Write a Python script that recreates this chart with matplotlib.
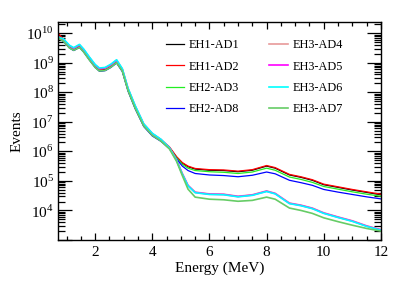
import matplotlib
matplotlib.use('Agg')
import matplotlib.pyplot as plt
import matplotlib.ticker as ticker
import numpy as np

plt.rcParams['font.family'] = ['Liberation Serif', 'DejaVu Serif']
plt.rcParams['mathtext.fontset'] = 'custom'
plt.rcParams['mathtext.rm'] = 'Liberation Serif'

# Energy grid (MeV) and log10(events)
energy = [0.7, 0.9, 1.1, 1.25, 1.45, 1.6, 1.8, 2.0, 2.15, 2.35,
          2.55, 2.75, 2.95, 3.15, 3.4, 3.7, 4.0, 4.3, 4.6, 4.85,
          5.05, 5.25, 5.5, 6.0, 6.5, 7.0, 7.5, 8.0, 8.3, 8.8,
          9.2, 9.6, 10.0, 10.5, 11.0, 11.5, 12.0]

eh1_ad1 = [9.96, 9.76, 9.54, 9.45, 9.56, 9.40, 9.13, 8.88, 8.75, 8.77,
           8.88, 9.03, 8.74, 8.08, 7.48, 6.88, 6.56, 6.38, 6.13, 5.80,
           5.60, 5.48, 5.40, 5.36, 5.35, 5.31, 5.36, 5.50, 5.43, 5.20,
           5.12, 5.02, 4.87, 4.78, 4.69, 4.61, 4.53]
eh1_ad2 = [10.0, 9.78, 9.56, 9.47, 9.58, 9.42, 9.15, 8.90, 8.77, 8.79,
           8.90, 9.05, 8.76, 8.10, 7.50, 6.90, 6.58, 6.40, 6.15, 5.82,
           5.62, 5.50, 5.42, 5.38, 5.37, 5.33, 5.38, 5.52, 5.45, 5.22,
           5.14, 5.04, 4.89, 4.80, 4.71, 4.63, 4.55]
eh2_ad3 = [9.85, 9.72, 9.50, 9.42, 9.52, 9.37, 9.10, 8.85, 8.72, 8.74,
           8.85, 9.00, 8.72, 8.06, 7.46, 6.86, 6.54, 6.36, 6.11, 5.78,
           5.56, 5.43, 5.35, 5.31, 5.29, 5.25, 5.30, 5.43, 5.36, 5.13,
           5.05, 4.95, 4.81, 4.72, 4.63, 4.55, 4.48]
eh2_ad8 = [9.86, 9.71, 9.50, 9.41, 9.52, 9.36, 9.09, 8.84, 8.71, 8.73,
           8.84, 8.99, 8.70, 8.04, 7.44, 6.84, 6.52, 6.34, 6.09, 5.74,
           5.50, 5.35, 5.25, 5.20, 5.18, 5.14, 5.19, 5.30, 5.24, 5.02,
           4.94, 4.85, 4.71, 4.62, 4.54, 4.46, 4.39]
eh3_ad4 = [9.88, 9.78, 9.57, 9.49, 9.60, 9.44, 9.17, 8.92, 8.80, 8.82,
           8.93, 9.08, 8.78, 8.12, 7.53, 6.92, 6.60, 6.40, 6.12, 5.70,
           5.25, 4.85, 4.62, 4.56, 4.55, 4.48, 4.53, 4.66, 4.58, 4.25,
           4.18, 4.08, 3.92, 3.78, 3.65, 3.48, 3.35]
eh3_ad5 = [9.88, 9.78, 9.57, 9.49, 9.60, 9.44, 9.17, 8.92, 8.80, 8.82,
           8.93, 9.08, 8.78, 8.12, 7.53, 6.92, 6.60, 6.40, 6.12, 5.70,
           5.24, 4.84, 4.61, 4.55, 4.54, 4.47, 4.52, 4.65, 4.57, 4.24,
           4.17, 4.07, 3.91, 3.77, 3.64, 3.47, 3.34]
eh3_ad6 = [9.87, 9.80, 9.59, 9.51, 9.62, 9.46, 9.19, 8.94, 8.82, 8.84,
           8.95, 9.10, 8.80, 8.14, 7.55, 6.93, 6.61, 6.41, 6.12, 5.69,
           5.23, 4.83, 4.60, 4.54, 4.53, 4.46, 4.51, 4.64, 4.56, 4.23,
           4.16, 4.06, 3.90, 3.76, 3.63, 3.46, 3.33]
eh3_ad7 = [9.84, 9.72, 9.50, 9.42, 9.52, 9.36, 9.09, 8.84, 8.72, 8.74,
           8.85, 9.00, 8.72, 8.06, 7.46, 6.86, 6.54, 6.35, 6.08, 5.66,
           5.18, 4.72, 4.45, 4.38, 4.36, 4.31, 4.34, 4.45, 4.38, 4.08,
           4.00, 3.90, 3.75, 3.62, 3.50, 3.39, 3.30]

labels = ['EH1-AD1', 'EH1-AD2', 'EH2-AD3', 'EH2-AD8',
          'EH3-AD4', 'EH3-AD5', 'EH3-AD6', 'EH3-AD7']
series = [eh1_ad1, eh1_ad2, eh2_ad3, eh2_ad8,
          eh3_ad4, eh3_ad5, eh3_ad6, eh3_ad7]
colors = ['black', 'red', '#22ee22', 'blue',
          '#e89a9a', 'magenta', 'cyan', '#66cc66']
widths = [0.9, 0.9, 0.9, 0.9, 1.2, 1.2, 1.2, 1.2]

fig = plt.figure(figsize=(4.15, 2.81), dpi=100)
ax = fig.add_axes([0.1398, 0.146, 0.778, 0.776])

for lab, vals, col, w in zip(labels, series, colors, widths):
    ax.plot(energy, 10.0 ** np.array(vals), color=col, lw=w, label=lab)

ax.set_yscale('log')
ax.set_xlim(0.7, 12)
ax.set_ylim(1e3, 2.4e10)
ax.xaxis.set_major_locator(ticker.MultipleLocator(2))
ax.xaxis.set_minor_locator(ticker.MultipleLocator(0.5))
ax.yaxis.set_major_locator(ticker.LogLocator(base=10, numticks=20))
ax.yaxis.set_minor_locator(ticker.LogLocator(base=10, subs=np.arange(2, 10),
                                             numticks=20))
ax.yaxis.set_minor_formatter(ticker.NullFormatter())
ax.yaxis.set_major_formatter(
    ticker.FuncFormatter(lambda v, p: '' if v < 5e3 else
                         r'$10^{%d}$' % round(np.log10(v))))
ax.tick_params(which='both', direction='in', top=True, right=True,
               labelsize=11, width=0.9)
ax.tick_params(axis='x', which='major', length=5, pad=4)
ax.tick_params(axis='x', which='minor', length=3)
ax.tick_params(axis='y', which='major', length=10, pad=3)
ax.tick_params(axis='y', which='minor', length=5)
for sp in ax.spines.values():
    sp.set_linewidth(1.0)

ax.set_xlabel('Energy (MeV)', fontsize=11, labelpad=2)
ax.set_ylabel('Events', fontsize=11, labelpad=2)

handles, labs = ax.get_legend_handles_labels()
ax.legend(handles, labs, ncol=2, frameon=False, fontsize=8.8,
          loc='upper right', bbox_to_anchor=(0.916, 0.97),
          handlelength=1.5, handletextpad=0.4, columnspacing=2.4,
          labelspacing=0.75)

fig.savefig('out.png', dpi=100)
